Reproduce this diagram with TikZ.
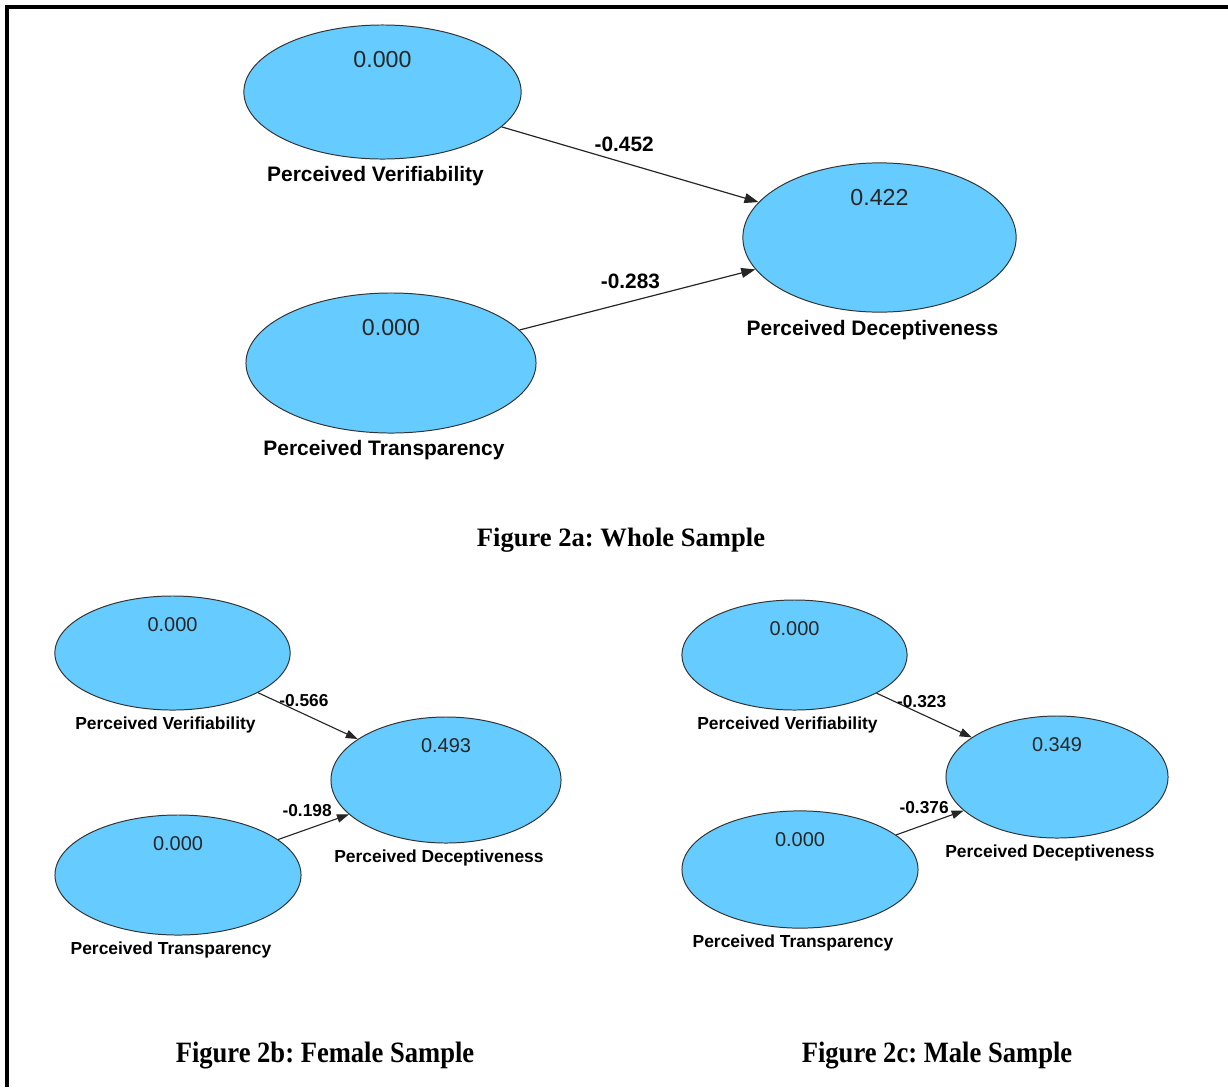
\documentclass[tikz,border=0pt]{standalone}
\usepackage{fontspec}
\setmainfont{Liberation Serif}
\setsansfont{Liberation Sans}
\newfontfamily\capfont[FakeStretch=0.9]{Liberation Serif}
\usepackage{tikz}
\usetikzlibrary{shapes.geometric, arrows.meta, positioning}
\definecolor{plsblue}{HTML}{66CCFF}
\frenchspacing

\begin{document}
\begin{tikzpicture}[
        x=0.025cm, y=-0.025cm,
        latent/.style={ellipse, draw=black!80, fill=plsblue, line width=0.7pt, inner sep=0pt},
        rsq/.style={font=\sffamily\fontsize{16.5}{18}\selectfont, text=black!85, inner sep=0pt},
        rsqs/.style={font=\sffamily\fontsize{14.2}{16}\selectfont, text=black!85, inner sep=0pt},
        lvname/.style={font=\sffamily\bfseries\fontsize{14.9}{17}\selectfont, inner sep=0pt, xshift=-5pt},
        lvnames/.style={font=\sffamily\bfseries\fontsize{12.4}{14}\selectfont, inner sep=0pt, xshift=-5pt},
        link/.style={-{Triangle[length=10pt, width=7pt]}, line width=0.85pt, draw=black!85},
        links/.style={-{Triangle[length=8.5pt, width=6pt]}, line width=0.8pt, draw=black!85},
        coef/.style={font=\sffamily\bfseries\fontsize{14.8}{17}\selectfont, inner sep=0pt},
        coefs/.style={font=\sffamily\bfseries\fontsize{12.3}{14}\selectfont, inner sep=0pt},
        figcap/.style={font=\bfseries\fontsize{18.9}{22}\selectfont},
        figcaps/.style={font=\capfont\bfseries\fontsize{21}{24}\selectfont}
    ]
        \useasboundingbox (0,0) rectangle (1228,1087);
        \draw[line width=2.8pt] (7,1087) -- (7,7) -- (1228,7);

        % Whole sample
        \node[latent, minimum width=6.93cm, minimum height=3.35cm] (pv) at (382.5,92) {};
        \node[latent, minimum width=6.83cm, minimum height=3.73cm] (pd) at (879.5,237.5) {};
        \node[latent, minimum width=7.25cm, minimum height=3.5cm] (pt) at (391,363) {};

        \node[rsq, below=0.67cm of pv.north] (pvr) {0.000};
        \node[rsq, below=0.67cm of pd.north] (pdr) {0.422};
        \node[rsq, below=0.67cm of pt.north] (ptr) {0.000};
        \node[lvname, below=0.175cm of pv.south] (pvname) {Perceived Verifiability};
        \node[lvname, below=0.175cm of pd.south] (pdname) {Perceived Deceptiveness};
        \node[lvname, below=0.175cm of pt.south] (ptname) {Perceived Transparency};

        \draw[link] (pv) -- node[coef, pos=0.477, above=7.5pt] (pvpd) {-0.452} (pd);
        \draw[link] (pt) -- node[coef, pos=0.47, above=9pt] (ptpd) {-0.283} (pd);

        \node[figcap] (cap2a) at (621,540) {Figure 2a: Whole Sample};

        % Female sample
        \node[latent, minimum width=5.88cm, minimum height=2.85cm] (fpv) at (172.5,653) {};
        \node[latent, minimum width=5.75cm, minimum height=3.15cm] (fpd) at (446,780) {};
        \node[latent, minimum width=6.15cm, minimum height=3cm] (fpt) at (178,875) {};

        \node[rsqs, below=0.54cm of fpv.north] (fpvr) {0.000};
        \node[rsqs, below=0.54cm of fpd.north] (fpdr) {0.493};
        \node[rsqs, below=0.54cm of fpt.north] (fptr) {0.000};
        \node[lvnames, below=0.15cm of fpv.south] (fpvname) {Perceived Verifiability};
        \node[lvnames, below=0.15cm of fpd.south] (fpdname) {Perceived Deceptiveness};
        \node[lvnames, below=0.15cm of fpt.south] (fptname) {Perceived Transparency};

        \draw[links] (fpv) -- node[coefs, pos=0.46, above=4.5pt] (fpvpd) {-0.566} (fpd);
        \draw[links] (fpt) -- node[coefs, pos=0.41, above=8.5pt] (fptpd) {-0.198} (fpd);

        \node[figcaps] (cap2b) at (325,1055) {Figure 2b: Female Sample};

        % Male sample
        \node[latent, minimum width=5.63cm, minimum height=2.75cm] (mpv) at (794.5,655) {};
        \node[latent, minimum width=5.55cm, minimum height=3.05cm] (mpd) at (1057,777) {};
        \node[latent, minimum width=5.9cm, minimum height=2.93cm] (mpt) at (800,869.5) {};

        \node[rsqs, below=0.54cm of mpv.north] (mpvr) {0.000};
        \node[rsqs, below=0.54cm of mpd.north] (mpdr) {0.349};
        \node[rsqs, below=0.54cm of mpt.north] (mptr) {0.000};
        \node[lvnames, below=0.15cm of mpv.south] (mpvname) {Perceived Verifiability};
        \node[lvnames, below=0.15cm of mpd.south] (mpdname) {Perceived Deceptiveness};
        \node[lvnames, below=0.15cm of mpt.south] (mptname) {Perceived Transparency};

        \draw[links] (mpv) -- node[coefs, pos=0.473, above=4.5pt] (mpvpd) {-0.323} (mpd);
        \draw[links] (mpt) -- node[coefs, pos=0.415, above=7.5pt] (mptpd) {-0.376} (mpd);

        \node[figcaps] (cap2c) at (937,1055) {Figure 2c: Male Sample};
    \end{tikzpicture}
\end{document}
